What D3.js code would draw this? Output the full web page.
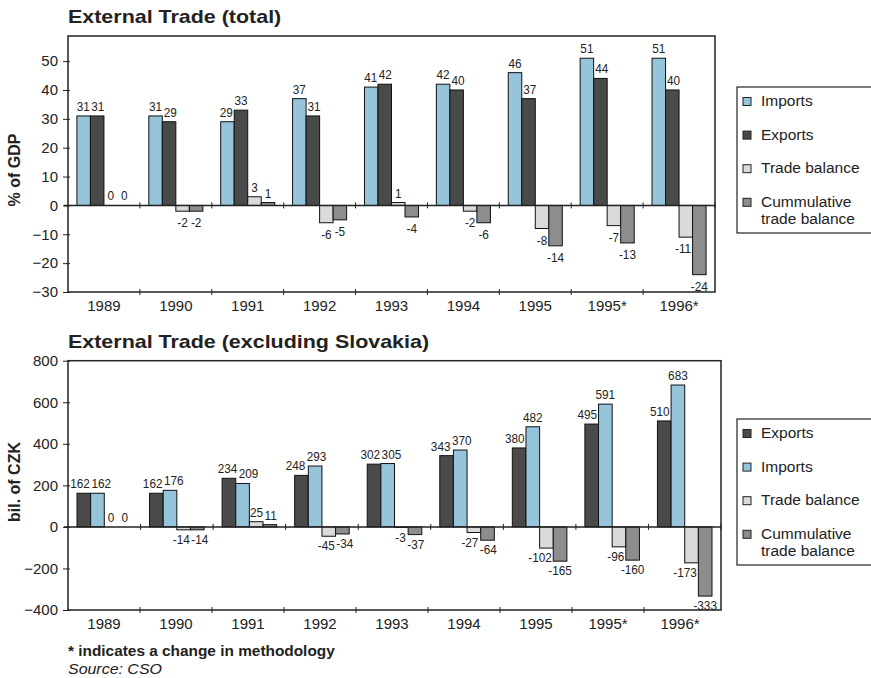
<!DOCTYPE html>
<html>
<head>
<meta charset="utf-8">
<script src="https://cdn.jsdelivr.net/npm/d3@7"></script>
<style>
  body { margin: 0; background: #fff; }
  svg { display: block; }
  text { font-family: "Liberation Sans", Arial, Helvetica, sans-serif; fill: #222; }
</style>
</head>
<body>
<svg id="chart" width="871" height="678"></svg>
<script>
// Categories shared by both panels
const years = ["1989", "1990", "1991", "1992", "1993", "1994", "1995", "1995*", "1996*"];

// Upper panel: external trade in % of GDP
const gdpImports    = [31, 31, 29, 37, 41, 42, 46, 51, 51];
const gdpExports    = [31, 29, 33, 31, 42, 40, 37, 44, 40];
const gdpBalance    = [0, -2, 3, -6, 1, -2, -8, -7, -11];
const gdpCumulative = [0, -2, 1, -5, -4, -6, -14, -13, -24];
const gdpTicks      = [-30, -20, -10, 0, 10, 20, 30, 40, 50];

// Lower panel: external trade excluding Slovakia, bil. of CZK
const czkExports    = [162, 162, 234, 248, 302, 343, 380, 495, 510];
const czkImports    = [162, 176, 209, 293, 305, 370, 482, 591, 683];
const czkBalance    = [0, -14, 25, -45, -3, -27, -102, -96, -173];
const czkCumulative = [0, -14, 11, -34, -37, -64, -165, -160, -333];
const czkTicks      = [-400, -200, 0, 200, 400, 600, 800];

const colors = {
  "Imports": "#95c4db",
  "Exports": "#4a4a4a",
  "Trade balance": "#dadada",
  "Cummulative trade balance": "#8d8d8d"
};

const svg = d3.select("#chart");

// Text helper with an optional horizontal stretch
function addText(parent, x, y, str, o) {
  o = o || {};
  const sx = o.sx || 1;
  return parent.append("text")
    .attr("transform", `translate(${x},${y}) scale(${sx},1)`)
    .attr("text-anchor", o.anchor || "start")
    .attr("font-size", o.size || 14)
    .attr("font-weight", o.weight || "normal")
    .attr("font-style", o.style || "normal")
    .text(str);
}

const LABEL_SIZE = 13.5, LABEL_SX = 0.87, LABEL_H = 10, GAP = 1.5;

function panel(cfg) {
  const g = svg.append("g");
  const x = d3.scaleBand().domain(years).range([cfg.left, cfg.right]);
  const xLab = d3.scaleBand().domain(years).range([cfg.left, cfg.labelRight]);
  const inner = d3.scaleBand()
    .domain(cfg.series.map(s => s.name))
    .range([0, x.bandwidth()])
    .paddingOuter(0.66);
  const y = d3.scaleLinear().domain(cfg.domain).range([cfg.bottom, cfg.top]);
  const y0 = y(0);

  // Title
  addText(g, cfg.left, cfg.titleY, cfg.title, { size: 18.5, weight: "bold", sx: 1.16 });

  // Y axis title
  g.append("text")
    .attr("transform", `translate(20,${cfg.ylabelY}) rotate(-90)`)
    .attr("text-anchor", "middle")
    .attr("font-size", 16)
    .attr("font-weight", "bold")
    .text(cfg.ylabel);

  // Bars
  cfg.series.forEach(s => {
    g.append("g").selectAll("rect").data(s.values).join("rect")
      .attr("x", (d, i) => x(years[i]) + inner(s.name))
      .attr("y", d => y(Math.max(0, d)))
      .attr("width", inner.bandwidth())
      .attr("height", d => Math.abs(y(d) - y0))
      .attr("fill", colors[s.name])
      .attr("stroke", d => d === 0 ? "none" : "#111")
      .attr("stroke-width", 1);
  });

  // Plot frame
  g.append("rect")
    .attr("x", cfg.left).attr("y", cfg.top)
    .attr("width", cfg.right - cfg.left).attr("height", cfg.bottom - cfg.top)
    .attr("fill", "none").attr("stroke", "#222").attr("stroke-width", 1.5);

  // Zero line with category separators
  g.append("line")
    .attr("x1", cfg.left - 4).attr("x2", cfg.right)
    .attr("y1", y0).attr("y2", y0)
    .attr("stroke", "#222").attr("stroke-width", 1.5);
  const bounds = years.slice(1).map(d => x(d)).concat([cfg.right]);
  g.append("g").selectAll("line").data(bounds).join("line")
    .attr("x1", d => d).attr("x2", d => d)
    .attr("y1", y0 - 3).attr("y2", y0 + 3)
    .attr("stroke", "#222").attr("stroke-width", 1);

  // Left axis
  const ya = g.append("g")
    .attr("transform", `translate(${cfg.left},0)`)
    .call(d3.axisLeft(y).tickValues(cfg.ticks).tickSize(5).tickSizeOuter(0).tickPadding(5));
  ya.select(".domain").remove();
  ya.selectAll(".tick line").attr("x2", -5).attr("x1", 2).attr("stroke", "#222");
  ya.selectAll(".tick text")
    .attr("font-size", 15)
    .attr("font-family", "Liberation Sans, Arial, sans-serif")
    .attr("fill", "#222");

  // Bottom axis: separators at category borders, labels centred
  const labBounds = years.slice(1).map(d => xLab(d));
  g.append("g").selectAll("line").data(labBounds).join("line")
    .attr("x1", d => d).attr("x2", d => d)
    .attr("y1", cfg.bottom - 3).attr("y2", cfg.bottom + 3)
    .attr("stroke", "#222").attr("stroke-width", 1);
  years.forEach(d => {
    addText(g, xLab(d) + xLab.bandwidth() / 2, cfg.bottom + 19, d, { size: 15, anchor: "middle" });
  });

  // Value labels, nudged sideways where they would run into a neighbouring bar or label
  const lblG = g.append("g");
  years.forEach((yr, i) => {
    const items = cfg.series.map(s => {
      const v = s.values[i];
      const bx = x(yr) + inner(s.name);
      const node = addText(lblG, 0, 0, String(v), { size: LABEL_SIZE, anchor: "middle", sx: LABEL_SX });
      const w = node.node().getBBox().width * LABEL_SX;
      return {
        v, node, w, bx, bw: inner.bandwidth(),
        cx: bx + inner.bandwidth() / 2,
        base: v >= 0 ? y(v) - 5 : y(v) + cfg.negOffset
      };
    });
    const sameSide = (a, b) => (a.v >= 0) === (b.v >= 0);
    const hitsBar = (lab, bar) => {
      if (!sameSide(lab, bar) || bar.v === 0) return false;
      return lab.v >= 0 ? lab.base > y(bar.v) : lab.base - LABEL_H < y(bar.v);
    };
    items.forEach((it, k) => {
      const right = items[k + 1], left = items[k - 1];
      if (right && hitsBar(it, right)) {
        const over = it.cx + it.w / 2 - (right.bx - GAP);
        if (over > 0) it.cx -= over;
      }
      if (left && hitsBar(it, left)) {
        const over = (left.bx + left.bw + GAP) - (it.cx - it.w / 2);
        if (over > 0) it.cx += over;
      }
    });
    for (let k = 0; k < items.length - 1; k++) {
      const a = items[k], b = items[k + 1];
      if (!sameSide(a, b) || Math.abs(a.base - b.base) >= LABEL_H) continue;
      const over = (a.cx + a.w / 2 + GAP) - (b.cx - b.w / 2);
      if (over > 0) { a.cx -= over / 2; b.cx += over / 2; }
    }
    items.forEach(it => {
      it.node.attr("transform", `translate(${it.cx},${it.base}) scale(${LABEL_SX},1)`);
    });
  });

  // Legend
  const lg = g.append("g");
  lg.append("rect")
    .attr("x", 737).attr("y", cfg.legendTop)
    .attr("width", 170).attr("height", 146)
    .attr("fill", "none").attr("stroke", "#222").attr("stroke-width", 1.2);
  cfg.series.forEach((s, i) => {
    const base = cfg.legendTop + 19 + 33.6 * i;
    lg.append("rect")
      .attr("x", 743).attr("y", base - 8.5)
      .attr("width", 8).attr("height", 8)
      .attr("fill", colors[s.name]).attr("stroke", "#222").attr("stroke-width", 1);
    const lines = s.name === "Cummulative trade balance" ? ["Cummulative", "trade balance"] : [s.name];
    lines.forEach((t, k) => addText(lg, 761, base + k * 16.8, t, { size: 15.5 }));
  });
}

panel({
  title: "External Trade (total)", titleY: 23,
  ylabel: "% of GDP", ylabelY: 170,
  left: 68, right: 715, labelRight: 715,
  top: 36, bottom: 292, domain: [-30, 58.7], ticks: gdpTicks,
  negOffset: 16, legendTop: 87,
  series: [
    { name: "Imports", values: gdpImports },
    { name: "Exports", values: gdpExports },
    { name: "Trade balance", values: gdpBalance },
    { name: "Cummulative trade balance", values: gdpCumulative }
  ]
});

panel({
  title: "External Trade (excluding Slovakia)", titleY: 348,
  ylabel: "bil. of CZK", ylabelY: 482,
  left: 68, right: 721, labelRight: 716,
  top: 360.7, bottom: 610, domain: [-400, 800], ticks: czkTicks,
  negOffset: 14, legendTop: 419,
  series: [
    { name: "Exports", values: czkExports },
    { name: "Imports", values: czkImports },
    { name: "Trade balance", values: czkBalance },
    { name: "Cummulative trade balance", values: czkCumulative }
  ]
});

// Footnotes
addText(svg, 68, 656, "* indicates a change in methodology", { size: 14, weight: "bold", sx: 1.1 });
addText(svg, 68, 674, "Source: CSO", { size: 14.5, style: "italic", sx: 1.1 });
</script>
</body>
</html>
